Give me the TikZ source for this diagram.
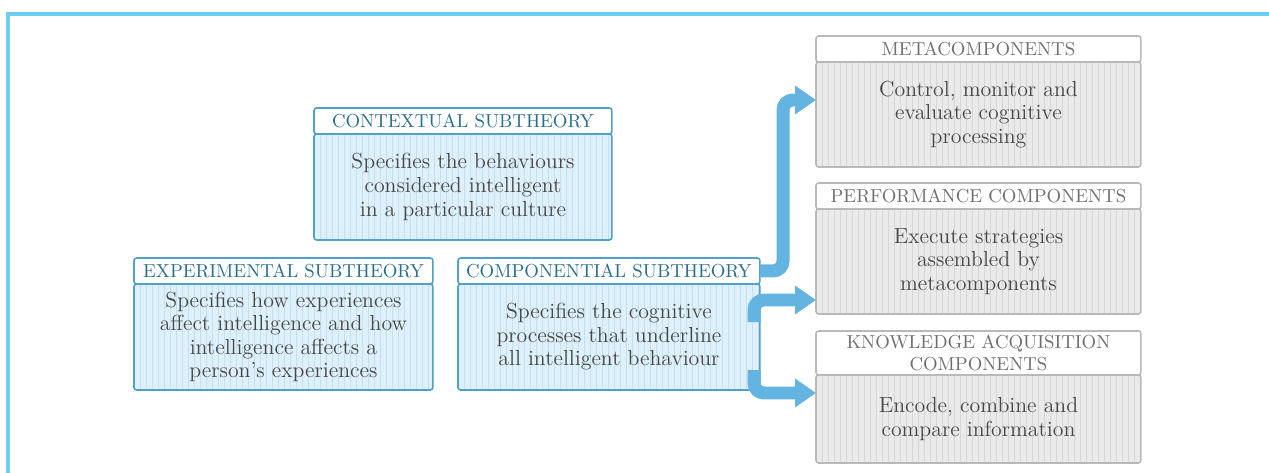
\documentclass[tikz,border=0pt]{standalone}
\usepackage{tikz}
\usetikzlibrary{positioning,arrows.meta}
\usepackage{xcolor}

\definecolor{frameblue}{RGB}{110,205,240}
\definecolor{arrowblue}{RGB}{100,180,225}
\definecolor{boxblue}{RGB}{80,160,200}
\definecolor{headblue}{RGB}{40,110,140}
\definecolor{bluefill}{RGB}{222,240,250}
\definecolor{bluestripe}{RGB}{196,224,240}
\definecolor{grayfill}{RGB}{234,234,234}
\definecolor{graystripe}{RGB}{214,214,214}
\definecolor{grayline}{RGB}{185,185,185}
\definecolor{grayhead}{RGB}{110,110,110}
\definecolor{bodytext}{RGB}{70,70,70}

\tikzset{
	box/.style={rectangle, outer sep=0pt, inner sep=2pt, align=center, rounded corners=1.5pt, line width=0.9pt},
	head/.style={box, fill=white, font=\fontsize{10.7}{12.5}\selectfont},
	bluehead/.style={head, draw=boxblue, text=headblue, minimum height=0.52cm},
	grayhead/.style={head, draw=grayline, text=grayhead, minimum height=0.52cm},
	stripes/.style={path picture={
		\foreach \k in {0,0.12,...,6.6}
			\draw[#1, line width=0.45pt] ([xshift=\k cm]path picture bounding box.south west) -- ([xshift=\k cm]path picture bounding box.north west);
	}},
	body/.style={box, text=bodytext, font=\fontsize{12.4}{13.4}\selectfont},
	bluebody/.style={body, draw=boxblue, fill=bluefill, stripes=bluestripe},
	graybody/.style={body, draw=grayline, fill=grayfill, stripes=graystripe},
	fatarrow/.style={draw=arrowblue, line width=0.26cm, rounded corners=0.2cm, -{Triangle[width=0.55cm,length=0.42cm]}}
}

\begin{document}
\begin{tikzpicture}[x=0.02cm, y=-0.02cm]
	\useasboundingbox (0,0) rectangle (1269,473);
	\draw[frameblue, line width=2.2pt] (8,473) -- (8,14) -- (1269,14);

	% the three subtheories
	\node[bluehead, minimum width=5.96cm, anchor=north west] (ctx-head) at (314,108) {CONTEXTUAL SUBTHEORY};
	\node[bluebody, minimum width=5.96cm, minimum height=2.12cm, below=0pt of ctx-head] (ctx-body) {Specifies the behaviours\\considered intelligent\\in a particular culture};

	\node[bluehead, minimum width=5.98cm, anchor=north west] (exp-head) at (134,258) {EXPERIMENTAL SUBTHEORY};
	\node[bluebody, minimum width=5.98cm, minimum height=2.12cm, below=0pt of exp-head] (exp-body) {Specifies how experiences\\affect intelligence and how\\intelligence affects a\\person's experiences};

	\node[bluehead, minimum width=6.04cm, anchor=north west] (comp-head) at (458,258) {COMPONENTIAL SUBTHEORY};
	\node[bluebody, minimum width=6.04cm, minimum height=2.12cm, below=0pt of comp-head] (comp-body) {Specifies the cognitive\\processes that underline\\all intelligent behaviour};

	% the components
	\node[grayhead, minimum width=6.5cm, anchor=north west] (meta-head) at (816,36) {METACOMPONENTS};
	\node[graybody, minimum width=6.5cm, minimum height=2.1cm, below=0pt of meta-head] (meta-body) {Control, monitor and\\evaluate cognitive\\processing};

	\node[grayhead, minimum width=6.5cm, anchor=north west] (perf-head) at (816,183) {PERFORMANCE COMPONENTS};
	\node[graybody, minimum width=6.5cm, minimum height=2.1cm, below=0pt of perf-head] (perf-body) {Execute strategies\\assembled by\\metacomponents};

	\node[grayhead, minimum width=6.5cm, minimum height=0.88cm, anchor=north west] (know-head) at (816,331) {KNOWLEDGE ACQUISITION\\COMPONENTS};
	\node[graybody, minimum width=6.5cm, minimum height=1.76cm, below=0pt of know-head] (know-body) {Encode, combine and\\compare information};

	% arrows
	\coordinate (bend1) at (783,100);
	\coordinate (start2) at (754,322);
	\coordinate (bend2) at (754,300);
	\coordinate (start3) at (754,370);
	\coordinate (bend3) at (754,393);
	\draw[fatarrow] (comp-head.east) -| (bend1) -- (bend1 -| meta-body.west);
	\draw[fatarrow] (start2) -- (bend2) -- (bend2 -| perf-body.west);
	\draw[fatarrow] (start3) -- (bend3) -- (bend3 -| know-body.west);
\end{tikzpicture}
\end{document}
